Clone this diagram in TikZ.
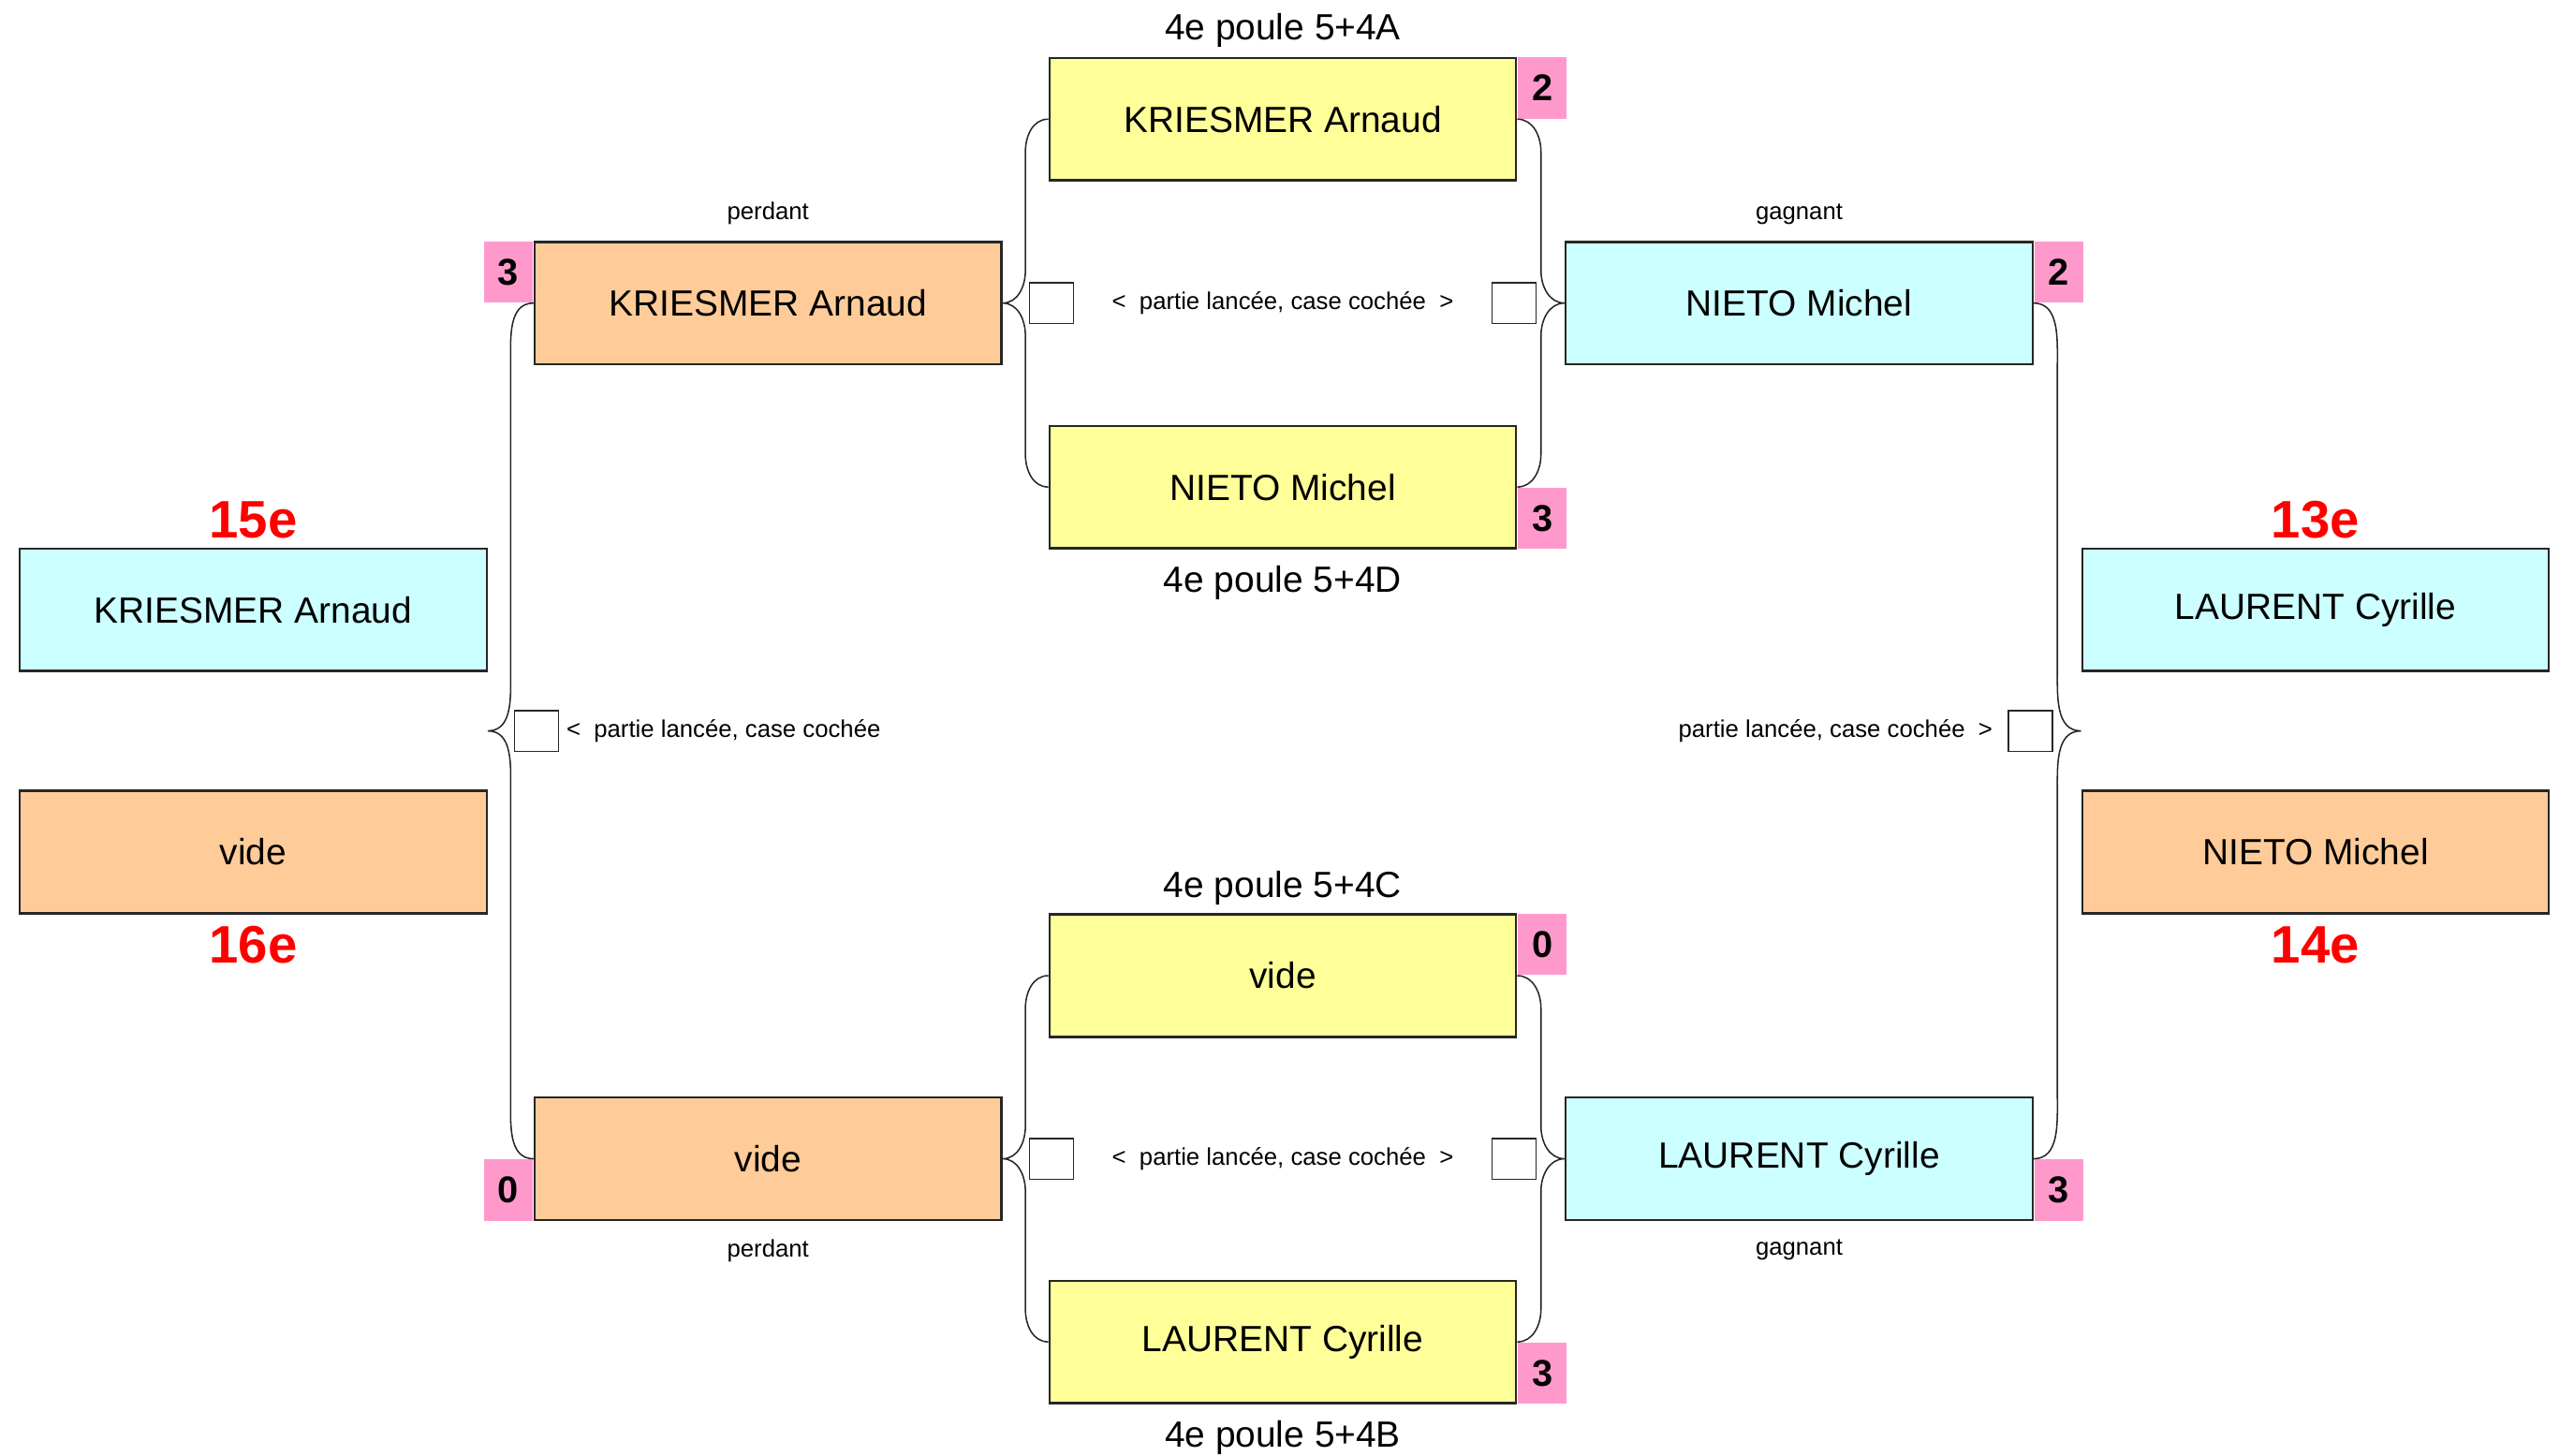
\documentclass[tikz,border=0pt]{standalone}
\usepackage{fontspec}
\setmainfont{Liberation Sans}
\usepackage{xcolor}
\usepackage{tikz}
\usetikzlibrary{positioning, calc}

\definecolor{jaune}{HTML}{FFFF99}
\definecolor{orangeclair}{HTML}{FFCC99}
\definecolor{cyanclair}{HTML}{CCFFFF}
\definecolor{rose}{HTML}{FF99CC}

\begin{document}
\begin{tikzpicture}[
    node distance=0.56cm,
    box/.style={rectangle, draw=black!85, line width=0.8pt, minimum width=5.72cm, minimum height=1.5cm, inner sep=0pt, font=\fontsize{12.7}{15}\selectfont},
    yellowbox/.style={box, fill=jaune},
    orangebox/.style={box, fill=orangeclair},
    cyanbox/.style={box, fill=cyanclair},
    score/.style={rectangle, fill=rose, minimum width=0.6cm, minimum height=0.75cm, inner sep=0pt, font=\fontsize{13}{15}\selectfont\bfseries},
    rank/.style={inner sep=0pt, text=red, font=\fontsize{18.4}{20}\selectfont\bfseries},
    poule/.style={inner sep=0pt, font=\fontsize{12.7}{15}\selectfont},
    note/.style={inner sep=0pt, font=\fontsize{8.4}{10}\selectfont},
    checkbox/.style={rectangle, draw=black!85, fill=white, line width=0.5pt, minimum width=0.54cm, minimum height=0.5cm, inner sep=0pt},
    brace/.style={draw=black!85, line width=0.5pt}
]
\useasboundingbox (0,0) rectangle (31.36,-17.84);

\node[yellowbox] (A) at (15.72,-1.46) {KRIESMER Arnaud};
\node[yellowbox, below=2.98cm of A] (D) {NIETO Michel};
\node[yellowbox, below=4.46cm of D] (C) {vide};
\node[yellowbox, below=2.96cm of C] (B) {LAURENT Cyrille};

\node[poule, above=0.11cm of A] (tA) {4e poule 5+4A};
\node[poule, below=0.19cm of D] (tD) {4e poule 5+4D};
\node[poule, above=0.1cm of C] (tC) {4e poule 5+4C};
\node[poule, below=0.2cm of B] (tB) {4e poule 5+4B};

\coordinate (mW1) at ($(A.west)!0.5!(D.west)$);
\coordinate (mE1) at ($(A.east)!0.5!(D.east)$);
\coordinate (mW2) at ($(C.west)!0.5!(B.west)$);
\coordinate (mE2) at ($(C.east)!0.5!(B.east)$);

\node[orangebox, left=of mW1] (perd1) {KRIESMER Arnaud};
\node[orangebox, left=of mW2] (perd2) {vide};
\node[cyanbox, right=0.58cm of mE1] (gagn1) {NIETO Michel};
\node[cyanbox, right=0.58cm of mE2] (gagn2) {LAURENT Cyrille};

\node[note, above=0.19cm of perd1] (lp1) {perdant};
\node[note, below=0.22cm of perd2] (lp2) {perdant};
\node[note, above=0.19cm of gagn1] (lg1) {gagnant};
\node[note, below=0.22cm of gagn2] (lg2) {gagnant};

\coordinate (tipL) at ($(perd1.west)!0.5!(perd2.west) + (-0.56,0)$);
\coordinate (tipR) at ($(gagn1.east)!0.5!(gagn2.east) + (0.58,0)$);

\node[cyanbox, above left=0.72cm and 0cm of tipL] (r15) {KRIESMER Arnaud};
\node[orangebox, below left=0.72cm and 0cm of tipL] (r16) {vide};
\node[cyanbox, above right=0.72cm and 0cm of tipR] (r13) {LAURENT Cyrille};
\node[orangebox, below right=0.72cm and 0cm of tipR] (r14) {NIETO Michel};

\node[rank, above=0.1cm of r15] (n15) {15e};
\node[rank, below=0.14cm of r16] (n16) {16e};
\node[rank, above=0.1cm of r13] (n13) {13e};
\node[rank, below=0.14cm of r14] (n14) {14e};

\node[score, anchor=north west] (sA) at (A.north east) {2};
\node[score, anchor=south west] (sD) at (D.south east) {3};
\node[score, anchor=north west] (sC) at (C.north east) {0};
\node[score, anchor=south west] (sB) at (B.south east) {3};
\node[score, anchor=north east] (sP1) at (perd1.north west) {3};
\node[score, anchor=south east] (sP2) at (perd2.south west) {0};
\node[score, anchor=north west] (sG1) at (gagn1.north east) {2};
\node[score, anchor=south west] (sG2) at (gagn2.south east) {3};

\foreach \ea/\tp/\eb/\h in {A.west/perd1.east/D.west/0.4, C.west/perd2.east/B.west/0.4, perd1.west/tipL/perd2.west/0.75}
  \draw[brace] (\ea) to[out=180,in=90] ($(\ea)+(-0.28,-\h)$) -- ($(\tp)+(0.28,\h)$) to[out=-90,in=0] (\tp) to[out=0,in=90] ($(\tp)+(0.28,-\h)$) -- ($(\eb)+(-0.28,\h)$) to[out=-90,in=180] (\eb);
\foreach \ea/\tp/\eb/\h in {A.east/gagn1.west/D.east/0.4, C.east/gagn2.west/B.east/0.4, gagn1.east/tipR/gagn2.east/0.75}
  \draw[brace] (\ea) to[out=0,in=90] ($(\ea)+(0.29,-\h)$) -- ($(\tp)+(-0.29,\h)$) to[out=-90,in=180] (\tp) to[out=180,in=90] ($(\tp)+(-0.29,-\h)$) -- ($(\eb)+(0.29,\h)$) to[out=-90,in=0] (\eb);

\node[checkbox, right=0.32cm of perd1.east] (c1L) {};
\node[checkbox, left=0.34cm of gagn1.west] (c1R) {};
\node[checkbox, right=0.32cm of perd2.east] (c2L) {};
\node[checkbox, left=0.34cm of gagn2.west] (c2R) {};
\node[checkbox, right=0.32cm of tipL] (cL) {};
\node[checkbox, left=0.34cm of tipR] (cR) {};

\node[note] (m1) at ($(A)!0.5!(D)$) {<~ partie lancée, case cochée ~>};
\node[note] (m2) at ($(C)!0.5!(B)$) {<~ partie lancée, case cochée ~>};
\node[note, right=0.08cm of cL] (mL) {<~ partie lancée, case cochée};
\node[note, left=0.18cm of cR] (mR) {partie lancée, case cochée~ >};

\end{tikzpicture}
\end{document}
